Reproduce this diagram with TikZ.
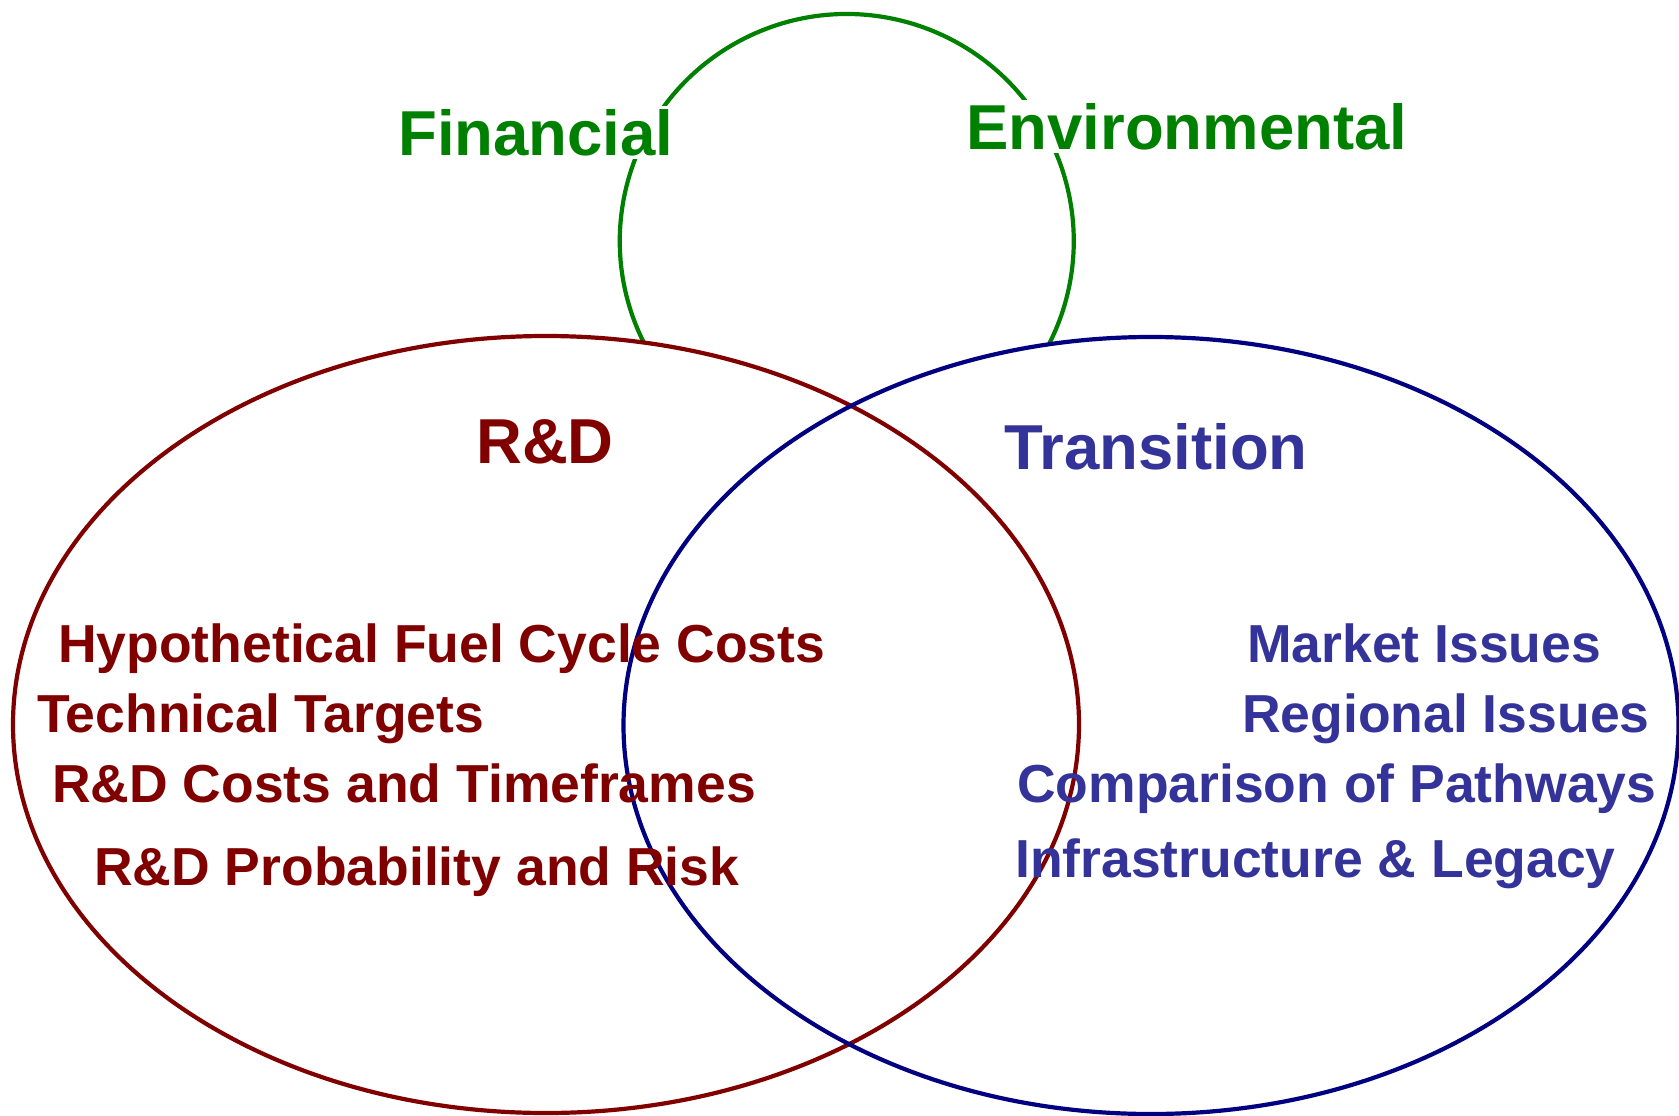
\documentclass[tikz,border=0pt]{standalone}
\usepackage{fontspec}
\setmainfont{Liberation Sans}
\definecolor{rdred}{HTML}{800000}
\definecolor{trblue}{HTML}{000080}
\definecolor{trtext}{HTML}{333399}
\definecolor{envgreen}{HTML}{008000}
\begin{document}
\begin{tikzpicture}[x=1pt,y=-1pt,
  heading/.style={anchor=base west,inner sep=0pt,font=\fontsize{63.5}{70}\selectfont\bfseries},
  item/.style={anchor=base west,inner sep=0pt,font=\fontsize{53.5}{60}\selectfont\bfseries},
  topic/.style={heading,fill=white,inner sep=3pt,text=envgreen}]
\useasboundingbox[fill=white] (0,0) rectangle (1679,1116);
% green arc
\draw[envgreen,line width=4.2pt] (644,343) arc[start angle=153.3,end angle=386.8,radius=227];
% ellipses
\draw[rdred,line width=4.2pt] (546,724.5) ellipse[x radius=533,y radius=388.5];
\draw[trblue,line width=4.2pt] (1151,725.5) ellipse[x radius=527.5,y radius=388.5];
% topics
\node[topic] (fin) at (395,155) {Financial};
\node[topic] (env) at (963,149) {Environmental};
% headings
\node[heading,text=rdred] (rd) at (476,463) {R\&D};
\node[heading,text=trtext] (tr) at (1004,469) {Transition};
% R&D items
\node[item,text=rdred] (hyp) at (58,662) {Hypothetical Fuel Cycle Costs};
\node[item,text=rdred] (tech) at (37,732) {Technical Targets};
\node[item,text=rdred] (cost) at (52,802) {R\&D Costs and Timeframes};
\node[item,text=rdred] (prob) at (94,885) {R\&D Probability and Risk};
% Transition items
\node[item,text=trtext] (mkt) at (1247,662) {Market Issues};
\node[item,text=trtext] (reg) at (1242,732) {Regional Issues};
\node[item,text=trtext] (cmp) at (1017,802) {Comparison of Pathways};
\node[item,text=trtext] (inf) at (1015,877) {Infrastructure \& Legacy};
\end{tikzpicture}
\end{document}
